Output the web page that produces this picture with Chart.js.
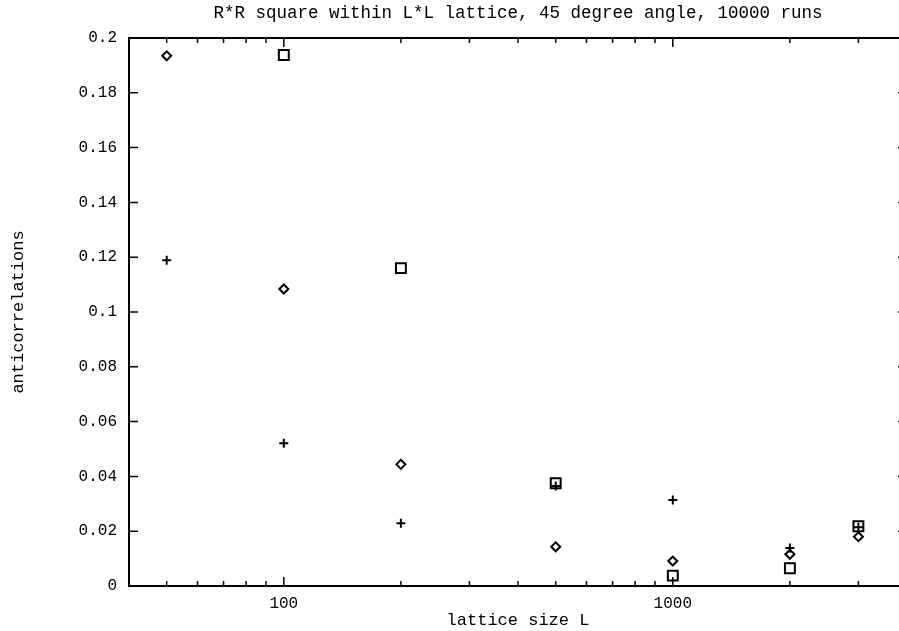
<!DOCTYPE html>
<html>
<head>
<meta charset="utf-8">
<title>anticorrelations vs lattice size</title>
<script src="https://cdn.jsdelivr.net/npm/chart.js@4"></script>
<style>
  html, body { margin: 0; padding: 0; background: #fff; overflow: hidden; }
  #wrap { width: 916px; height: 631px; }
  #mainChart { display: block; width: 916px; height: 631px; }
</style>
</head>
<body>
<div id="wrap"><canvas id="mainChart" width="916" height="631"></canvas></div>
<script>
const latticeSizes = [50, 100, 200, 500, 1000, 2000, 3000];
const diamondVals = [0.1935, 0.1084, 0.0444, 0.0143, 0.0091, 0.0116, 0.0180];
const squareVals = [null, 0.1938, 0.1160, 0.0375, 0.0038, 0.0065, 0.0218];
const plusVals = [0.1189, 0.0521, 0.0229, 0.0365, 0.0314, 0.0139, 0.0214];

const xTickVals = [40, 50, 60, 70, 80, 90, 100, 200, 300, 400, 500, 600, 700, 800, 900, 1000, 2000, 3000, 4000];
const xTickLabels = { 100: '100', 1000: '1000' };

const FONT = 'Liberation Mono, Courier New, monospace';

function toPoints(vals) {
  return latticeSizes.map((x, i) => ({ x, y: vals[i] })).filter(p => p.y !== null);
}

// gnuplot style frame: border box plus inward ticks on all four sides
const framePlugin = {
  id: 'frame',
  beforeDatasetsDraw(chart) {
    const { ctx, chartArea: a, scales } = chart;
    ctx.save();
    ctx.strokeStyle = '#000';
    ctx.lineWidth = 2;
    ctx.strokeRect(a.left, a.top, a.right - a.left, a.bottom - a.top);

    ctx.lineWidth = 1.5;
    ctx.beginPath();
    scales.x.ticks.forEach(t => {
      const px = scales.x.getPixelForValue(t.value);
      const len = xTickLabels[t.value] ? 9 : 5;
      ctx.moveTo(px, a.bottom); ctx.lineTo(px, a.bottom - len);
      ctx.moveTo(px, a.top); ctx.lineTo(px, a.top + len);
    });
    scales.y.ticks.forEach(t => {
      const py = scales.y.getPixelForValue(t.value);
      ctx.moveTo(a.left, py); ctx.lineTo(a.left + 9, py);
      ctx.moveTo(a.right, py); ctx.lineTo(a.right - 9, py);
    });
    ctx.stroke();
    ctx.restore();
  }
};

function markerSet(vals, style, radius) {
  return {
    data: toPoints(vals),
    pointStyle: style,
    pointRadius: radius,
    pointBorderColor: '#000',
    pointBackgroundColor: 'rgba(0,0,0,0)',
    pointBorderWidth: 2,
    showLine: false
  };
}

new Chart(document.getElementById('mainChart'), {
  type: 'scatter',
  data: {
    datasets: [
      markerSet(diamondVals, 'rectRot', 4.5),
      markerSet(squareVals, 'rect', 7),
      markerSet(plusVals, 'cross', 4.5)
    ]
  },
  options: {
    responsive: false,
    animation: false,
    devicePixelRatio: 1,
    layout: { padding: { left: 0, right: 2, top: 0, bottom: 0 } },
    plugins: {
      legend: { display: false },
      tooltip: { enabled: false },
      title: {
        display: true,
        fullSize: false,
        text: 'R*R square within L*L lattice, 45 degree angle, 10000 runs',
        color: '#000',
        font: { family: FONT, size: 17.5, weight: 'normal' },
        padding: { top: 3, bottom: 14 }
      }
    },
    scales: {
      x: {
        type: 'logarithmic',
        min: 40,
        max: 4000,
        grid: { display: false, drawTicks: false },
        border: { display: false },
        afterBuildTicks: scale => { scale.ticks = xTickVals.map(v => ({ value: v })); },
        afterFit: scale => { scale.height = 45; },
        ticks: {
          autoSkip: false,
          maxRotation: 0,
          padding: 8,
          color: '#000',
          font: { family: FONT, size: 16 },
          callback: v => xTickLabels[v] || ''
        },
        title: {
          display: true,
          text: 'lattice size L',
          color: '#000',
          font: { family: FONT, size: 17 },
          padding: { top: 0, bottom: 0 }
        }
      },
      y: {
        min: 0,
        max: 0.2,
        grid: { display: false, drawTicks: false },
        border: { display: false },
        afterFit: scale => { scale.width = 129; },
        ticks: {
          stepSize: 0.02,
          padding: 12,
          color: '#000',
          font: { family: FONT, size: 16 },
          callback: v => String(+v.toFixed(2))
        },
        title: {
          display: true,
          text: 'anticorrelations',
          color: '#000',
          font: { family: FONT, size: 17 },
          padding: { top: 8, bottom: 0 }
        }
      }
    }
  },
  plugins: [framePlugin]
});
</script>
</body>
</html>
